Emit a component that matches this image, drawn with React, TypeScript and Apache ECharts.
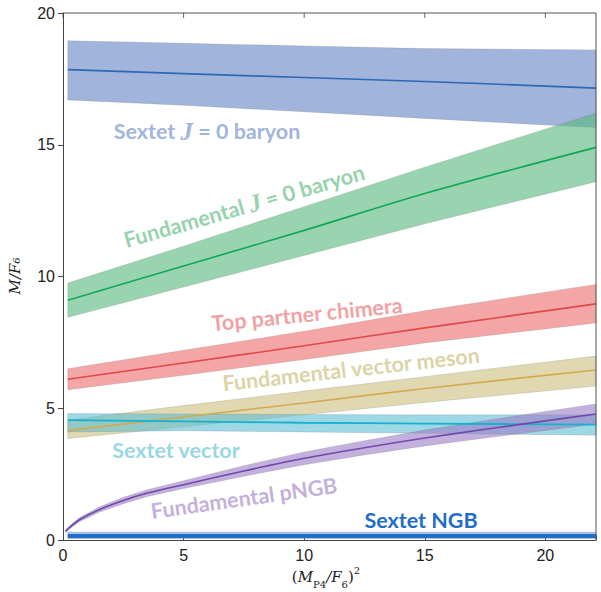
import React, { useEffect, useRef } from "react";
import * as echarts from "echarts";

const X = [0.2, 5, 10, 15, 22.1];

const sextetBaryonC = [17.85, 17.7, 17.55, 17.4, 17.15];
const sextetBaryonU = [18.95, 18.85, 18.75, 18.65, 18.6];
const sextetBaryonL = [16.7, 16.5, 16.25, 16.0, 15.65];

const fundBaryonC = [9.1, 10.4, 11.75, 13.15, 14.9];
const fundBaryonU = [9.75, 11.15, 12.65, 14.15, 16.2];
const fundBaryonL = [8.45, 9.6, 10.8, 12.0, 13.6];

const chimeraC = [6.1, 6.72, 7.37, 8.05, 8.96];
const chimeraU = [6.5, 7.2, 7.92, 8.7, 9.7];
const chimeraL = [5.7, 6.25, 6.85, 7.48, 8.24];

const vecMesonC = [4.15, 4.67, 5.2, 5.75, 6.45];
const vecMesonU = [4.55, 5.1, 5.65, 6.2, 6.98];
const vecMesonL = [3.85, 4.3, 4.75, 5.22, 5.84];

const sextetVecC = [4.55, 4.5, 4.45, 4.42, 4.38];
const sextetVecU = [4.8, 4.78, 4.76, 4.75, 4.75];
const sextetVecL = [4.1, 4.15, 4.1, 4.05, 3.98];

const pngbX = [0.1, 0.3, 0.7, 1.5, 2.5, 3.5, 5, 7.5, 10, 12.5, 15, 17.5, 20, 22.1];
const pngbC = [0.33, 0.5, 0.78, 1.15, 1.5, 1.78, 2.1, 2.62, 3.1, 3.5, 3.87, 4.2, 4.52, 4.78];
const pngbW = [0.04, 0.06, 0.08, 0.1, 0.12, 0.13, 0.15, 0.2, 0.24, 0.27, 0.3, 0.33, 0.36, 0.38];

const ngbX = [0.2, 22.1];
const ngbC = [0.15, 0.15];
const ngbU = [0.3, 0.3];
const ngbL = [0.05, 0.05];

const xTicks = [0, 5, 10, 15, 20];
const xMin = 0;
const xMax = 22.1;
const yMin = 0;
const yMax = 20;

function App() {
  const ref = useRef<HTMLDivElement>(null);
  useEffect(() => {
    if (!ref.current) return;
    const chart = echarts.init(ref.current, null, { renderer: "svg" });

    const band = (xs: number[], up: number[], lo: number[], fill: string, z: number) => ({
      type: "custom",
      z,
      silent: true,
      data: [[0, 0]],
      renderItem: (_p: any, api: any) => {
        const pts: number[][] = [];
        for (let i = 0; i < xs.length; i++) pts.push(api.coord([xs[i], up[i]]));
        for (let i = xs.length - 1; i >= 0; i--) pts.push(api.coord([xs[i], lo[i]]));
        return {
          type: "polygon",
          shape: { points: pts },
          style: { fill, stroke: "rgba(110,110,110,0.35)", lineWidth: 0.6 },
        };
      },
    });
    const line = (xs: number[], ys: number[], color: string, width: number, z: number) => ({
      type: "line",
      z,
      silent: true,
      showSymbol: false,
      smooth: 0.3,
      data: xs.map((x, i) => [x, ys[i]]),
      lineStyle: { color, width },
    });

    const pU = pngbC.map((c, i) => c + pngbW[i]);
    const pL = pngbC.map((c, i) => c - pngbW[i]);

    const labelFont = "Lato";
    const LS = 21.5;
    const lbl = (text: string, x: number, y: number, deg: number, color: string, rich?: any) => ({
      type: "text",
      x,
      y,
      rotation: (deg * Math.PI) / 180,
      z: 100,
      style: {
        text,
        fill: color,
        fontFamily: labelFont,
        fontWeight: "bold",
        fontSize: LS,
        align: "center",
        verticalAlign: "middle",
        rich,
      },
    });
    const jRich = (color: string) => ({
      a: { fill: color, fontFamily: labelFont, fontWeight: "bold", fontSize: LS },
      j: { fill: color, fontFamily: "Liberation Serif", fontStyle: "italic", fontWeight: "bold", fontSize: 25 },
    });

    const option: any = {
      animation: false,
      grid: { left: 63, right: 5, top: 13, bottom: 52 },
      xAxis: {
        type: "value",
        min: xMin,
        max: xMax,
        interval: 5,
        axisLine: { onZero: false, lineStyle: { color: "#444", width: 1 } },
        axisTick: { inside: true, length: 5, lineStyle: { color: "#444" } },
        axisLabel: {
          color: "#222",
          fontFamily: "Liberation Sans",
          fontSize: 16,
          margin: 7,
          formatter: (v: number) => (xTicks.includes(v) ? String(v) : ""),
        },
        splitLine: { show: false },
      },
      yAxis: {
        type: "value",
        min: yMin,
        max: yMax,
        interval: 5,
        axisLine: { show: true, onZero: false, lineStyle: { color: "#444", width: 1 } },
        axisTick: { show: true, inside: false, length: 5, lineStyle: { color: "#444" } },
        axisLabel: { color: "#222", fontFamily: "Liberation Sans", fontSize: 16, margin: 8 },
        splitLine: { show: false },
      },
      series: [
        band(X, sextetBaryonU, sextetBaryonL, "rgba(97,130,197,0.6)", 1),
        band(X, fundBaryonU, fundBaryonL, "rgba(85,183,123,0.6)", 2),
        band(X, chimeraU, chimeraL, "rgba(237,107,107,0.6)", 2),
        band(X, vecMesonU, vecMesonL, "rgba(203,190,123,0.6)", 2),
        band(X, sextetVecU, sextetVecL, "rgba(93,190,213,0.6)", 3),
        band(pngbX, pU, pL, "rgba(157,123,197,0.6)", 4),
        band(ngbX, ngbU, ngbL, "rgba(120,160,225,0.6)", 4),
        line(X, sextetBaryonC, "#2e68b4", 1.6, 10),
        line(X, fundBaryonC, "#14a658", 1.6, 10),
        line(X, chimeraC, "#e04848", 1.6, 10),
        line(X, vecMesonC, "#d2aa50", 1.6, 10),
        line(X, sextetVecC, "#14b2cc", 1.8, 10),
        line(pngbX, pngbC, "#7048ac", 1.6, 10),
        line(ngbX, ngbC, "#1e6ecc", 4, 11),
        {
          // frame: top and right edges of the box
          type: "line",
          z: 20,
          silent: true,
          clip: false,
          showSymbol: false,
          smooth: false,
          data: [[xMin, yMax], [xMax, yMax], [xMax, yMin]],
          lineStyle: { color: "#555", width: 1 },
        },
        {
          // inward ticks on the top edge
          type: "scatter",
          z: 20,
          silent: true,
          clip: false,
          symbol: "rect",
          symbolSize: [1, 5],
          symbolOffset: [0, 2.5],
          itemStyle: { color: "#444" },
          data: xTicks.map((t) => [t, yMax]),
        },
      ],
      graphic: [
        lbl("{a|Sextet }{j|J}{a| = 0 baryon}", 207, 131, 0, "#a2b5dc", jRich("#a2b5dc")),
        lbl("{a|Fundamental }{j|J}{a| = 0 baryon}", 244, 206, 16, "#96d3ac", jRich("#96d3ac")),
        lbl("Top partner chimera", 307, 314, 5.5, "#f2a2a2"),
        lbl("Fundamental vector meson", 351, 369, 6.4, "#dcd3a6"),
        lbl("Sextet vector", 176, 450, 0, "#9ad7e4"),
        lbl("Fundamental pNGB", 244, 498, 8, "#c3b1dc"),
        lbl("Sextet NGB", 421, 520, 0, "#1f6ec8"),
        {
          type: "text",
          x: 15,
          y: 276,
          rotation: Math.PI / 2,
          style: {
            text: "M/F₆",
            fill: "#222",
            fontFamily: "DejaVu Serif",
            fontStyle: "italic",
            fontSize: 15,
            align: "center",
            verticalAlign: "middle",
          },
        },
        {
          type: "text",
          x: 326,
          y: 577,
          style: {
            text: "{n|(}{i|M}{s|P4}{i|/F}{s|6}{n|)}{p|2}",
            align: "center",
            verticalAlign: "middle",
            rich: {
              n: { fill: "#222", fontFamily: "DejaVu Serif", fontSize: 15, lineHeight: 24, verticalAlign: "middle" },
              i: { fill: "#222", fontFamily: "DejaVu Serif", fontStyle: "italic", fontSize: 15, lineHeight: 24, verticalAlign: "middle" },
              s: { fill: "#222", fontFamily: "DejaVu Serif", fontSize: 10, lineHeight: 24, verticalAlign: "bottom" },
              p: { fill: "#222", fontFamily: "DejaVu Serif", fontSize: 10, lineHeight: 24, verticalAlign: "top" },
            },
          },
        },
      ],
    };
    chart.setOption(option);
    return () => chart.dispose();
  }, []);
  return (
    <div
      ref={ref}
      style={{ position: "absolute", left: 0, top: 0, width: 601, height: 592, background: "#fff" }}
    />
  );
}

export default App;
